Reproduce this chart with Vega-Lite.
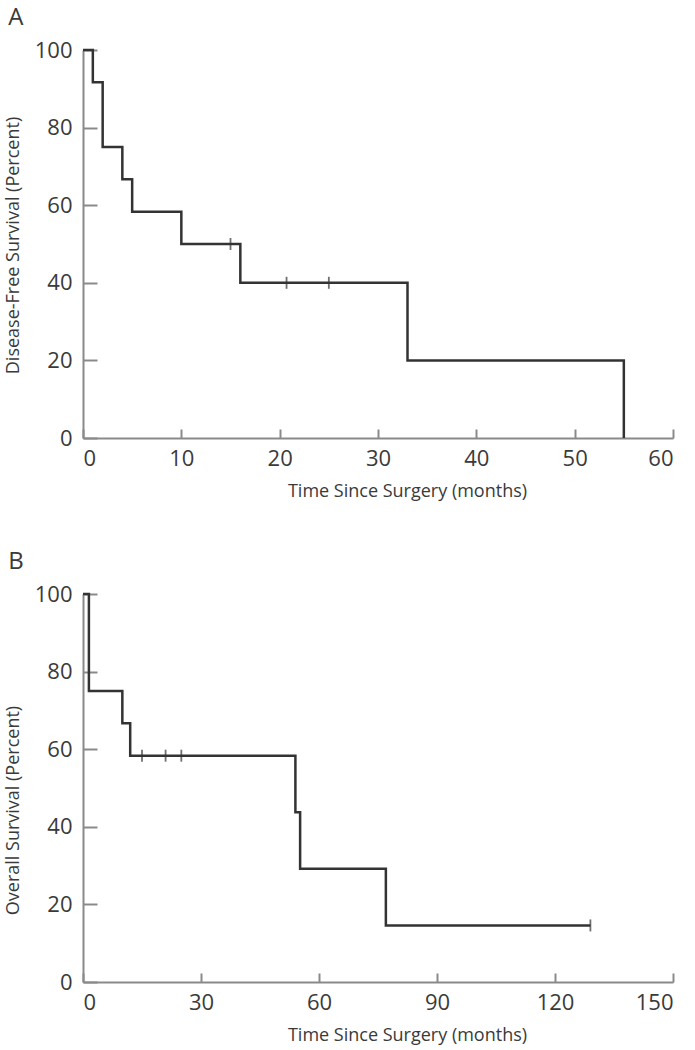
{
  "$schema": "https://vega.github.io/schema/vega-lite/v6.json",
  "padding": {"left": 4, "top": 6, "right": 2, "bottom": 3},
  "background": "white",
  "config": {
    "view": {"stroke": null},
    "font": "Open Sans",
    "axis": {
      "grid": false,
      "domainColor": "#8a8a8a",
      "domainWidth": 2,
      "tickColor": "#8a8a8a",
      "tickWidth": 2,
      "labelColor": "#3a3a3a",
      "labelFontSize": 22,
      "titleColor": "#3a3a3a",
      "titleFontSize": 18,
      "titleFontWeight": "normal"
    },
    "axisX": {"tickSize": -9, "labelPadding": 19, "titlePadding": 13, "titleX": 324, "titleAlign": "center"},
    "axisY": {"tickSize": -14, "labelPadding": 25, "titlePadding": 12},
    "title": {"fontSize": 24, "fontWeight": "normal", "color": "#3a3a3a", "anchor": "start", "offset": 9}
  },
  "datasets": {
    "dfs": [
      {"t": 0, "s": 100},
      {"t": 1, "s": 91.67},
      {"t": 2, "s": 75},
      {"t": 4, "s": 66.67},
      {"t": 5, "s": 58.33},
      {"t": 10, "s": 50},
      {"t": 16, "s": 40},
      {"t": 33, "s": 20},
      {"t": 55, "s": 0}
    ],
    "dfs_cens": [
      {"t": 15, "s": 50},
      {"t": 20.7, "s": 40},
      {"t": 25, "s": 40}
    ],
    "os": [
      {"t": 0, "s": 100},
      {"t": 1.5, "s": 75},
      {"t": 10, "s": 66.67},
      {"t": 12, "s": 58.33},
      {"t": 54, "s": 43.75},
      {"t": 55.2, "s": 29.17},
      {"t": 77, "s": 14.58},
      {"t": 129, "s": 14.58}
    ],
    "os_cens": [
      {"t": 15, "s": 58.33},
      {"t": 21, "s": 58.33},
      {"t": 25, "s": 58.33},
      {"t": 129, "s": 14.58}
    ]
  },
  "spacing": 50,
  "vconcat": [
    {
      "title": {"text": "A", "dx": 4},
      "width": 590,
      "height": 388,
      "layer": [
        {
          "data": {"name": "dfs"},
          "mark": {"type": "line", "interpolate": "step-after", "color": "#333333", "strokeWidth": 2.5},
          "encoding": {
            "x": {"field": "t", "type": "quantitative", "scale": {"domain": [0, 60], "nice": false}, "axis": {"values": [0, 10, 20, 30, 40, 50, 60], "title": "Time Since Surgery (months)"}},
            "y": {"field": "s", "type": "quantitative", "scale": {"domain": [0, 100], "nice": false}, "axis": {"values": [0, 20, 40, 60, 80, 100], "title": "Disease-Free Survival (Percent)", "titleY": 195}}
          }
        },
        {
          "data": {"name": "dfs_cens"},
          "mark": {"type": "tick", "orient": "vertical", "color": "#333333", "thickness": 1.8, "size": 12},
          "encoding": {
            "x": {"field": "t", "type": "quantitative"},
            "y": {"field": "s", "type": "quantitative"}
          }
        }
      ]
    },
    {
      "title": {"text": "B", "dx": 4},
      "width": 590,
      "height": 388,
      "layer": [
        {
          "data": {"name": "os"},
          "mark": {"type": "line", "interpolate": "step-after", "color": "#333333", "strokeWidth": 2.5},
          "encoding": {
            "x": {"field": "t", "type": "quantitative", "scale": {"domain": [0, 150], "nice": false}, "axis": {"values": [0, 30, 60, 90, 120, 150], "title": "Time Since Surgery (months)"}},
            "y": {"field": "s", "type": "quantitative", "scale": {"domain": [0, 100], "nice": false}, "axis": {"values": [0, 20, 40, 60, 80, 100], "title": "Overall Survival (Percent)", "titleY": 216}}
          }
        },
        {
          "data": {"name": "os_cens"},
          "mark": {"type": "tick", "orient": "vertical", "color": "#333333", "thickness": 1.8, "size": 12},
          "encoding": {
            "x": {"field": "t", "type": "quantitative"},
            "y": {"field": "s", "type": "quantitative"}
          }
        }
      ]
    }
  ]
}
